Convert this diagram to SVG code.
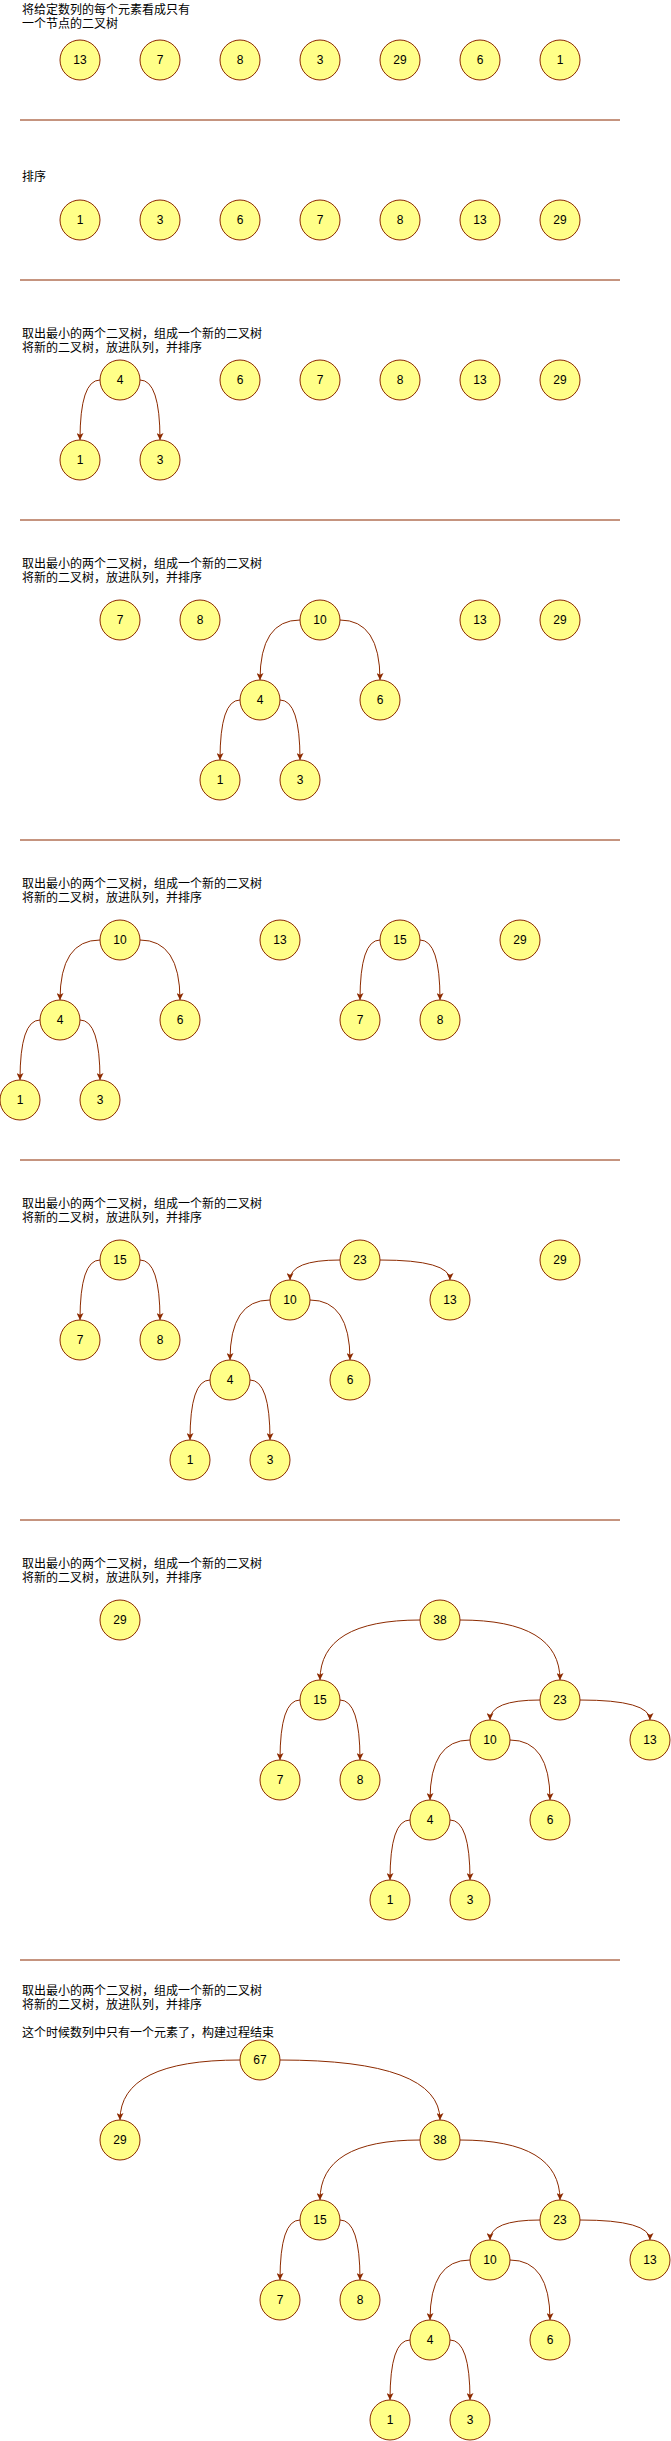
<svg xmlns="http://www.w3.org/2000/svg" width="671" height="2441" viewBox="0 0 671 2441">
<style>
.node circle{fill:#FFFF88;stroke:#8C2A00;stroke-width:1}
.node text{font-family:"Liberation Sans",Arial,sans-serif;font-size:12px;text-anchor:middle;fill:#000}
.label{font-family:"Liberation Sans","Noto Sans CJK SC",sans-serif;font-size:12px;fill:#000}
.sep{stroke:#8C2A00;stroke-width:1}
#edges path{fill:none;stroke:#8C2A00;stroke-width:1;marker-end:url(#arr)}
</style>
<defs>
<marker id="arr" markerUnits="userSpaceOnUse" markerWidth="7" markerHeight="7" viewBox="0 0 7 7" refX="7" refY="3.5" orient="auto">
<path d="M0,0 L7,3.5 L0,7 L1.75,3.5 Z" fill="#8C2A00"/>
</marker>
</defs>
<rect width="671" height="2441" fill="#fff"/>

<g id="labels">
<text class="label" x="22" y="13.5">将给定数列的每个元素看成只有</text>
<text class="label" x="22" y="27.5">一个节点的二叉树</text>
<text class="label" x="22" y="180.5">排序</text>
<text class="label" x="22" y="338">取出最小的两个二叉树，组成一个新的二叉树</text>
<text class="label" x="22" y="352">将新的二叉树，放进队列，并排序</text>
<text class="label" x="22" y="568">取出最小的两个二叉树，组成一个新的二叉树</text>
<text class="label" x="22" y="582">将新的二叉树，放进队列，并排序</text>
<text class="label" x="22" y="888">取出最小的两个二叉树，组成一个新的二叉树</text>
<text class="label" x="22" y="902">将新的二叉树，放进队列，并排序</text>
<text class="label" x="22" y="1208">取出最小的两个二叉树，组成一个新的二叉树</text>
<text class="label" x="22" y="1222">将新的二叉树，放进队列，并排序</text>
<text class="label" x="22" y="1568">取出最小的两个二叉树，组成一个新的二叉树</text>
<text class="label" x="22" y="1582">将新的二叉树，放进队列，并排序</text>
<text class="label" x="22" y="1994.5">取出最小的两个二叉树，组成一个新的二叉树</text>
<text class="label" x="22" y="2008.5">将新的二叉树，放进队列，并排序</text>
<text class="label" x="22" y="2036.5">这个时候数列中只有一个元素了，构建过程结束</text>
</g>

<g id="separators">
<line class="sep" x1="20" y1="120" x2="620" y2="120"/>
<line class="sep" x1="20" y1="280" x2="620" y2="280"/>
<line class="sep" x1="20" y1="520" x2="620" y2="520"/>
<line class="sep" x1="20" y1="840" x2="620" y2="840"/>
<line class="sep" x1="20" y1="1160" x2="620" y2="1160"/>
<line class="sep" x1="20" y1="1520" x2="620" y2="1520"/>
<line class="sep" x1="20" y1="1960" x2="620" y2="1960"/>
</g>

<g id="edges">
<path d="M100,380 Q80,380 80,440"/>
<path d="M140,380 Q160,380 160,440"/>

<path d="M300,620 Q260,620 260,680"/>
<path d="M340,620 Q380,620 380,680"/>
<path d="M240,700 Q220,700 220,760"/>
<path d="M280,700 Q300,700 300,760"/>

<path d="M100,940 Q60,940 60,1000"/>
<path d="M140,940 Q180,940 180,1000"/>
<path d="M40,1020 Q20,1020 20,1080"/>
<path d="M80,1020 Q100,1020 100,1080"/>
<path d="M380,940 Q360,940 360,1000"/>
<path d="M420,940 Q440,940 440,1000"/>

<path d="M100,1260 Q80,1260 80,1320"/>
<path d="M140,1260 Q160,1260 160,1320"/>
<path d="M340,1260 Q290,1260 290,1280"/>
<path d="M380,1260 Q450,1260 450,1280"/>
<path d="M270,1300 Q230,1300 230,1360"/>
<path d="M310,1300 Q350,1300 350,1360"/>
<path d="M210,1380 Q190,1380 190,1440"/>
<path d="M250,1380 Q270,1380 270,1440"/>

<path d="M420,1620 Q320,1620 320,1680"/>
<path d="M460,1620 Q560,1620 560,1680"/>
<path d="M300,1700 Q280,1700 280,1760"/>
<path d="M340,1700 Q360,1700 360,1760"/>
<path d="M540,1700 Q490,1700 490,1720"/>
<path d="M580,1700 Q650,1700 650,1720"/>
<path d="M470,1740 Q430,1740 430,1800"/>
<path d="M510,1740 Q550,1740 550,1800"/>
<path d="M410,1820 Q390,1820 390,1880"/>
<path d="M450,1820 Q470,1820 470,1880"/>

<path d="M240,2060 Q120,2060 120,2120"/>
<path d="M280,2060 Q440,2060 440,2120"/>
<path d="M420,2140 Q320,2140 320,2200"/>
<path d="M460,2140 Q560,2140 560,2200"/>
<path d="M300,2220 Q280,2220 280,2280"/>
<path d="M340,2220 Q360,2220 360,2280"/>
<path d="M540,2220 Q490,2220 490,2240"/>
<path d="M580,2220 Q650,2220 650,2240"/>
<path d="M470,2260 Q430,2260 430,2320"/>
<path d="M510,2260 Q550,2260 550,2320"/>
<path d="M410,2340 Q390,2340 390,2400"/>
<path d="M450,2340 Q470,2340 470,2400"/>
</g>

<g id="s1-13" class="node"><circle cx="80" cy="60" r="20"/><text x="80" y="64">13</text></g>
<g id="s1-7" class="node"><circle cx="160" cy="60" r="20"/><text x="160" y="64">7</text></g>
<g id="s1-8" class="node"><circle cx="240" cy="60" r="20"/><text x="240" y="64">8</text></g>
<g id="s1-3" class="node"><circle cx="320" cy="60" r="20"/><text x="320" y="64">3</text></g>
<g id="s1-29" class="node"><circle cx="400" cy="60" r="20"/><text x="400" y="64">29</text></g>
<g id="s1-6" class="node"><circle cx="480" cy="60" r="20"/><text x="480" y="64">6</text></g>
<g id="s1-1" class="node"><circle cx="560" cy="60" r="20"/><text x="560" y="64">1</text></g>

<g id="s2-1" class="node"><circle cx="80" cy="220" r="20"/><text x="80" y="224">1</text></g>
<g id="s2-3" class="node"><circle cx="160" cy="220" r="20"/><text x="160" y="224">3</text></g>
<g id="s2-6" class="node"><circle cx="240" cy="220" r="20"/><text x="240" y="224">6</text></g>
<g id="s2-7" class="node"><circle cx="320" cy="220" r="20"/><text x="320" y="224">7</text></g>
<g id="s2-8" class="node"><circle cx="400" cy="220" r="20"/><text x="400" y="224">8</text></g>
<g id="s2-13" class="node"><circle cx="480" cy="220" r="20"/><text x="480" y="224">13</text></g>
<g id="s2-29" class="node"><circle cx="560" cy="220" r="20"/><text x="560" y="224">29</text></g>

<g id="s3-4" class="node"><circle cx="120" cy="380" r="20"/><text x="120" y="384">4</text></g>
<g id="s3-6" class="node"><circle cx="240" cy="380" r="20"/><text x="240" y="384">6</text></g>
<g id="s3-7" class="node"><circle cx="320" cy="380" r="20"/><text x="320" y="384">7</text></g>
<g id="s3-8" class="node"><circle cx="400" cy="380" r="20"/><text x="400" y="384">8</text></g>
<g id="s3-13" class="node"><circle cx="480" cy="380" r="20"/><text x="480" y="384">13</text></g>
<g id="s3-29" class="node"><circle cx="560" cy="380" r="20"/><text x="560" y="384">29</text></g>
<g id="s3-1" class="node"><circle cx="80" cy="460" r="20"/><text x="80" y="464">1</text></g>
<g id="s3-3" class="node"><circle cx="160" cy="460" r="20"/><text x="160" y="464">3</text></g>

<g id="s4-7" class="node"><circle cx="120" cy="620" r="20"/><text x="120" y="624">7</text></g>
<g id="s4-8" class="node"><circle cx="200" cy="620" r="20"/><text x="200" y="624">8</text></g>
<g id="s4-10" class="node"><circle cx="320" cy="620" r="20"/><text x="320" y="624">10</text></g>
<g id="s4-13" class="node"><circle cx="480" cy="620" r="20"/><text x="480" y="624">13</text></g>
<g id="s4-29" class="node"><circle cx="560" cy="620" r="20"/><text x="560" y="624">29</text></g>
<g id="s4-4" class="node"><circle cx="260" cy="700" r="20"/><text x="260" y="704">4</text></g>
<g id="s4-6" class="node"><circle cx="380" cy="700" r="20"/><text x="380" y="704">6</text></g>
<g id="s4-1" class="node"><circle cx="220" cy="780" r="20"/><text x="220" y="784">1</text></g>
<g id="s4-3" class="node"><circle cx="300" cy="780" r="20"/><text x="300" y="784">3</text></g>

<g id="s5-10" class="node"><circle cx="120" cy="940" r="20"/><text x="120" y="944">10</text></g>
<g id="s5-13" class="node"><circle cx="280" cy="940" r="20"/><text x="280" y="944">13</text></g>
<g id="s5-15" class="node"><circle cx="400" cy="940" r="20"/><text x="400" y="944">15</text></g>
<g id="s5-29" class="node"><circle cx="520" cy="940" r="20"/><text x="520" y="944">29</text></g>
<g id="s5-4" class="node"><circle cx="60" cy="1020" r="20"/><text x="60" y="1024">4</text></g>
<g id="s5-6" class="node"><circle cx="180" cy="1020" r="20"/><text x="180" y="1024">6</text></g>
<g id="s5-7" class="node"><circle cx="360" cy="1020" r="20"/><text x="360" y="1024">7</text></g>
<g id="s5-8" class="node"><circle cx="440" cy="1020" r="20"/><text x="440" y="1024">8</text></g>
<g id="s5-1" class="node"><circle cx="20" cy="1100" r="20"/><text x="20" y="1104">1</text></g>
<g id="s5-3" class="node"><circle cx="100" cy="1100" r="20"/><text x="100" y="1104">3</text></g>

<g id="s6-15" class="node"><circle cx="120" cy="1260" r="20"/><text x="120" y="1264">15</text></g>
<g id="s6-23" class="node"><circle cx="360" cy="1260" r="20"/><text x="360" y="1264">23</text></g>
<g id="s6-29" class="node"><circle cx="560" cy="1260" r="20"/><text x="560" y="1264">29</text></g>
<g id="s6-10" class="node"><circle cx="290" cy="1300" r="20"/><text x="290" y="1304">10</text></g>
<g id="s6-13" class="node"><circle cx="450" cy="1300" r="20"/><text x="450" y="1304">13</text></g>
<g id="s6-7" class="node"><circle cx="80" cy="1340" r="20"/><text x="80" y="1344">7</text></g>
<g id="s6-8" class="node"><circle cx="160" cy="1340" r="20"/><text x="160" y="1344">8</text></g>
<g id="s6-4" class="node"><circle cx="230" cy="1380" r="20"/><text x="230" y="1384">4</text></g>
<g id="s6-6" class="node"><circle cx="350" cy="1380" r="20"/><text x="350" y="1384">6</text></g>
<g id="s6-1" class="node"><circle cx="190" cy="1460" r="20"/><text x="190" y="1464">1</text></g>
<g id="s6-3" class="node"><circle cx="270" cy="1460" r="20"/><text x="270" y="1464">3</text></g>

<g id="s7-29" class="node"><circle cx="120" cy="1620" r="20"/><text x="120" y="1624">29</text></g>
<g id="s7-38" class="node"><circle cx="440" cy="1620" r="20"/><text x="440" y="1624">38</text></g>
<g id="s7-15" class="node"><circle cx="320" cy="1700" r="20"/><text x="320" y="1704">15</text></g>
<g id="s7-23" class="node"><circle cx="560" cy="1700" r="20"/><text x="560" y="1704">23</text></g>
<g id="s7-10" class="node"><circle cx="490" cy="1740" r="20"/><text x="490" y="1744">10</text></g>
<g id="s7-13" class="node"><circle cx="650" cy="1740" r="20"/><text x="650" y="1744">13</text></g>
<g id="s7-7" class="node"><circle cx="280" cy="1780" r="20"/><text x="280" y="1784">7</text></g>
<g id="s7-8" class="node"><circle cx="360" cy="1780" r="20"/><text x="360" y="1784">8</text></g>
<g id="s7-4" class="node"><circle cx="430" cy="1820" r="20"/><text x="430" y="1824">4</text></g>
<g id="s7-6" class="node"><circle cx="550" cy="1820" r="20"/><text x="550" y="1824">6</text></g>
<g id="s7-1" class="node"><circle cx="390" cy="1900" r="20"/><text x="390" y="1904">1</text></g>
<g id="s7-3" class="node"><circle cx="470" cy="1900" r="20"/><text x="470" y="1904">3</text></g>

<g id="s8-67" class="node"><circle cx="260" cy="2060" r="20"/><text x="260" y="2064">67</text></g>
<g id="s8-29" class="node"><circle cx="120" cy="2140" r="20"/><text x="120" y="2144">29</text></g>
<g id="s8-38" class="node"><circle cx="440" cy="2140" r="20"/><text x="440" y="2144">38</text></g>
<g id="s8-15" class="node"><circle cx="320" cy="2220" r="20"/><text x="320" y="2224">15</text></g>
<g id="s8-23" class="node"><circle cx="560" cy="2220" r="20"/><text x="560" y="2224">23</text></g>
<g id="s8-10" class="node"><circle cx="490" cy="2260" r="20"/><text x="490" y="2264">10</text></g>
<g id="s8-13" class="node"><circle cx="650" cy="2260" r="20"/><text x="650" y="2264">13</text></g>
<g id="s8-7" class="node"><circle cx="280" cy="2300" r="20"/><text x="280" y="2304">7</text></g>
<g id="s8-8" class="node"><circle cx="360" cy="2300" r="20"/><text x="360" y="2304">8</text></g>
<g id="s8-4" class="node"><circle cx="430" cy="2340" r="20"/><text x="430" y="2344">4</text></g>
<g id="s8-6" class="node"><circle cx="550" cy="2340" r="20"/><text x="550" y="2344">6</text></g>
<g id="s8-1" class="node"><circle cx="390" cy="2420" r="20"/><text x="390" y="2424">1</text></g>
<g id="s8-3" class="node"><circle cx="470" cy="2420" r="20"/><text x="470" y="2424">3</text></g>
</svg>
